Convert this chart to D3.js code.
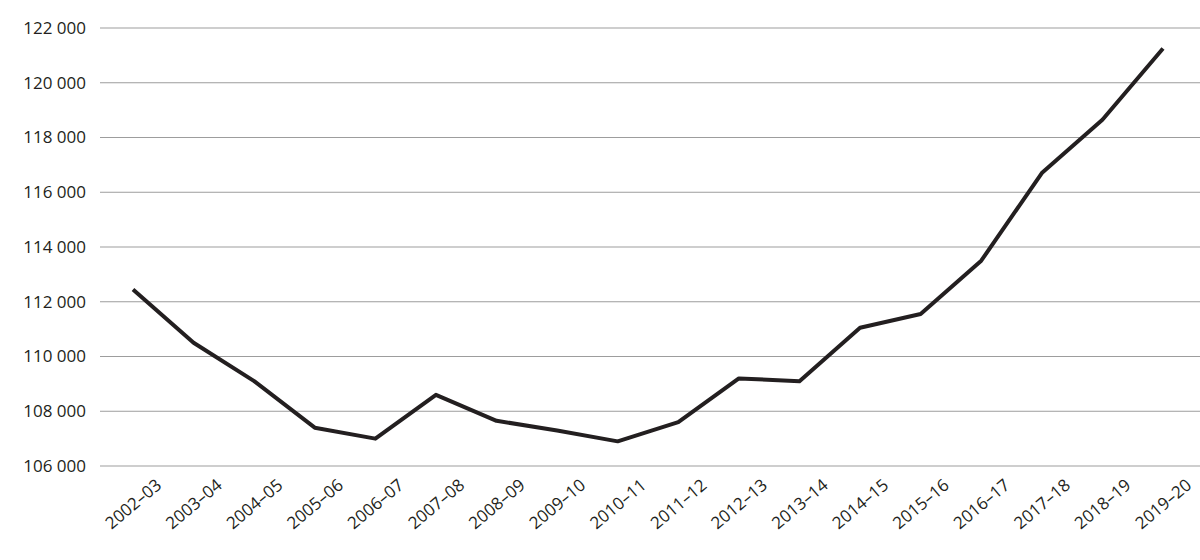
<!DOCTYPE html>
<html><head><meta charset="utf-8">
<script src="https://cdn.jsdelivr.net/npm/d3@7"></script>
<style>body{margin:0;background:#fff}text{font-family:"Open Sans",sans-serif;font-size:17px;fill:#231f20}</style>
</head><body><svg width="1200" height="560"></svg>
<script>
const categories=["2002–03","2003–04","2004–05","2005–06","2006–07","2007–08","2008–09","2009–10","2010–11","2011–12","2012–13","2013–14","2014–15","2015–16","2016–17","2017–18","2018–19","2019–20"];
const values=[112450,110500,109100,107400,107000,108600,107650,107300,106900,107600,109200,109100,111050,111550,113500,116700,118650,121250];
const yTicks=[106000,108000,110000,112000,114000,116000,118000,120000,122000];
const svg=d3.select("svg");
const x=d3.scalePoint().domain(categories).range([133,1163]);
const y=d3.scaleLinear().domain([106000,122000]).range([466,28]);
const fmt=v=>d3.format(",")(v).replace(","," ");
const g=svg.append("g");
yTicks.forEach(t=>{
  g.append("line").attr("x1",100).attr("x2",1200).attr("y1",y(t)).attr("y2",y(t)).attr("stroke","#9d9d9d").attr("stroke-width",1);
  g.append("text").attr("x",86).attr("y",y(t)).attr("dy","0.35em").attr("text-anchor","end").text(fmt(t));
});
categories.forEach(c=>{
  svg.append("text").attr("transform",`translate(${x(c)+22},${478}) rotate(-40)`).attr("text-anchor","end").attr("dy","0.7em").text(c);
});
svg.append("path").datum(values).attr("fill","none").attr("stroke","#231f20").attr("stroke-width",4).attr("stroke-linejoin","round")
  .attr("d",d3.line().x((d,i)=>x(categories[i])).y(d=>y(d)));
</script></body></html>
